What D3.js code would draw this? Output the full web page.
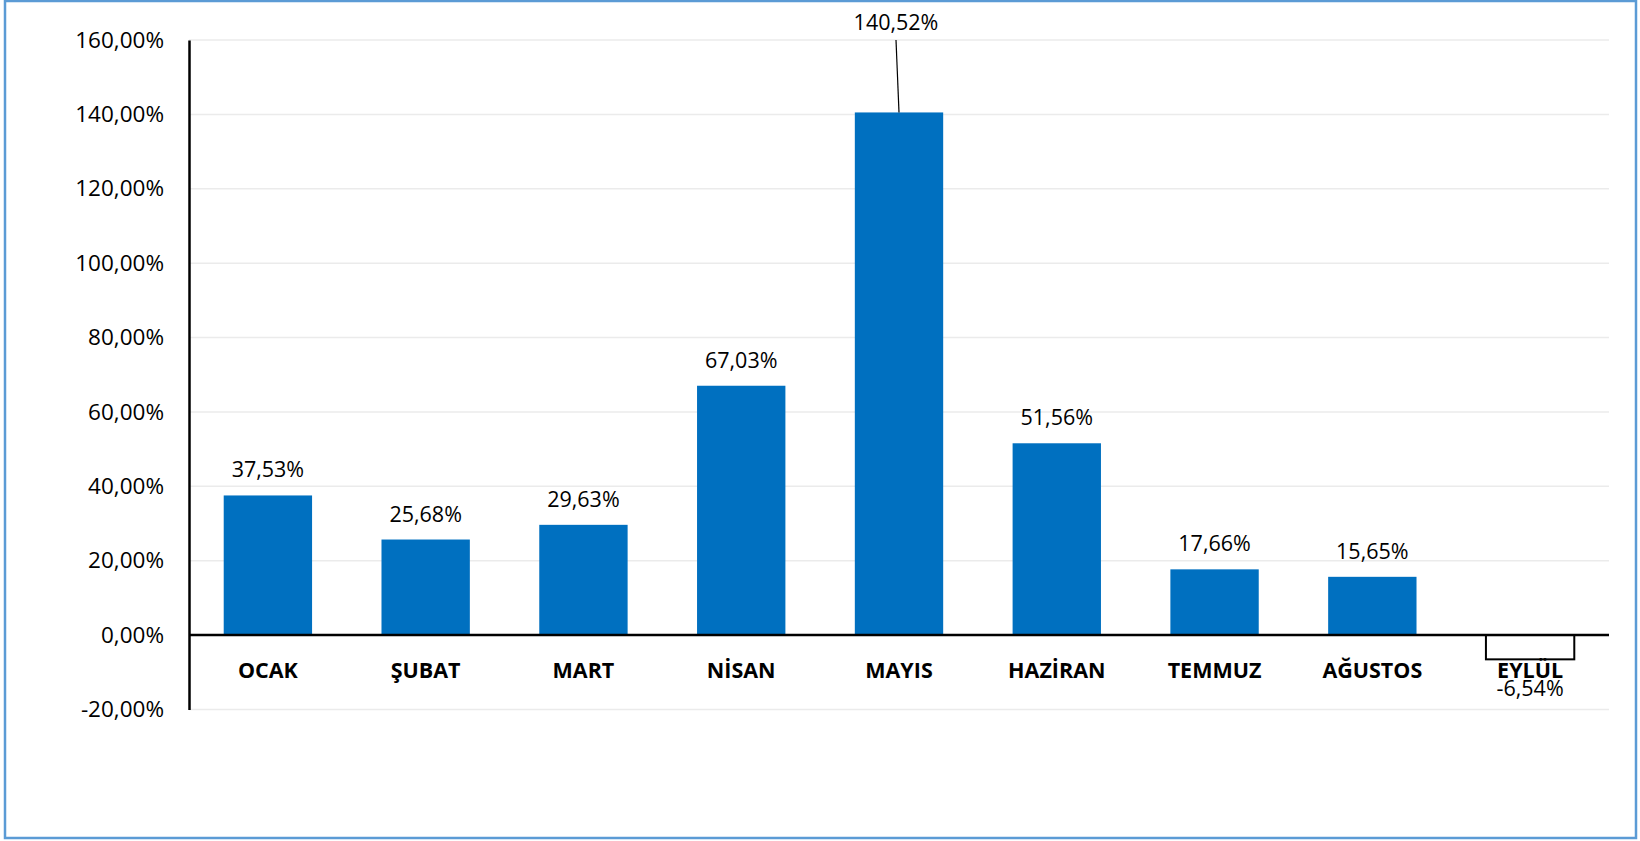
<!DOCTYPE html>
<html>
<head>
<meta charset="utf-8">
<script src="https://cdn.jsdelivr.net/npm/d3@7"></script>
<style>
  body { margin: 0; background: #fff; }
  svg { display: block; font-family: "Open Sans", sans-serif; }
</style>
</head>
<body>
<svg id="chart" width="1640" height="841"></svg>
<script>
// months and monthly change (%)
var months = ["OCAK", "ŞUBAT", "MART", "NİSAN", "MAYIS", "HAZİRAN", "TEMMUZ", "AĞUSTOS", "EYLÜL"];
var changes = [37.53, 25.68, 29.63, 67.03, 140.52, 51.56, 17.66, 15.65, -6.54];
var yTicks = [-20, 0, 20, 40, 60, 80, 100, 120, 140, 160];

var W = 1640, H = 841;
var L = 189, R = 1609, T = 40, B = 709.4;

var vis = d3.select("#chart");

// outer frame
vis.append("rect")
    .attr("x", 5).attr("y", 1)
    .attr("width", W - 9).attr("height", H - 4)
    .attr("fill", "#fff")
    .attr("stroke", "#5b9bd5")
    .attr("stroke-width", 2.5);

var xScale = d3.scaleBand().domain(months).range([L, R]).paddingInner(0.44).paddingOuter(0.22);
var yScale = d3.scaleLinear().domain([-20, 160]).range([B, T]);

function fmt(v) { return v.toFixed(2).replace(".", ",") + "%"; }

// gridlines
vis.append("g").selectAll("line")
    .data(yTicks)
    .enter().append("line")
    .attr("x1", L).attr("x2", R)
    .attr("y1", function(d) { return yScale(d); })
    .attr("y2", function(d) { return yScale(d); })
    .attr("stroke", "#ebebeb")
    .attr("stroke-width", 1.5);

// y axis
var yAxis = d3.axisLeft(yScale).tickValues(yTicks).tickSize(0).tickPadding(25)
    .tickFormat(function(d) { return d.toFixed(2).replace(".", ",") + "%"; });
var gy = vis.append("g")
    .attr("transform", "translate(" + L + ",0)")
    .call(yAxis);
gy.select(".domain").attr("stroke", "#000").attr("stroke-width", 2.5);
gy.selectAll("text").attr("font-size", 22.5).attr("fill", "#000")
    .attr("font-family", "Open Sans, sans-serif");

// bars
var zero = yScale(0);
vis.append("g").selectAll("rect")
    .data(changes)
    .enter().append("rect")
    .attr("x", function(d, i) { return xScale(months[i]); })
    .attr("width", xScale.bandwidth())
    .attr("y", function(d) { return d >= 0 ? yScale(d) : zero; })
    .attr("height", function(d) { return Math.abs(yScale(d) - zero); })
    .attr("fill", function(d) { return d >= 0 ? "#0070c0" : "#fff"; })
    .attr("stroke", function(d) { return d >= 0 ? "none" : "#000"; })
    .attr("stroke-width", 2);

// zero line
vis.append("line")
    .attr("x1", L).attr("x2", R)
    .attr("y1", zero).attr("y2", zero)
    .attr("stroke", "#000").attr("stroke-width", 2.5);

// category labels
vis.append("g").selectAll("text")
    .data(months)
    .enter().append("text")
    .attr("x", function(d) { return xScale(d) + xScale.bandwidth() / 2; })
    .attr("y", zero + 43)
    .attr("text-anchor", "middle")
    .attr("font-size", 21.5)
    .attr("font-weight", "bold")
    .text(function(d) { return d; });

// value labels
var labels = vis.append("g");
changes.forEach(function(v, i) {
  var cx = xScale(months[i]) + xScale.bandwidth() / 2;
  var ly, lx = cx;
  if (v < 0) {
    ly = zero + 61;
  } else if (yScale(v) - 25 < T + 60) {
    // tall bar: label sits above the plot with a leader line
    ly = T - 10;
    lx = cx - 3;
    labels.append("line")
        .attr("x1", lx).attr("y1", T)
        .attr("x2", cx).attr("y2", yScale(v))
        .attr("stroke", "#000").attr("stroke-width", 1.2);
  } else {
    ly = yScale(v) - 18;
  }
  labels.append("text")
      .attr("x", lx)
      .attr("y", ly)
      .attr("text-anchor", "middle")
      .attr("font-size", 21.5)
      .text(fmt(v));
});
</script>
</body>
</html>
